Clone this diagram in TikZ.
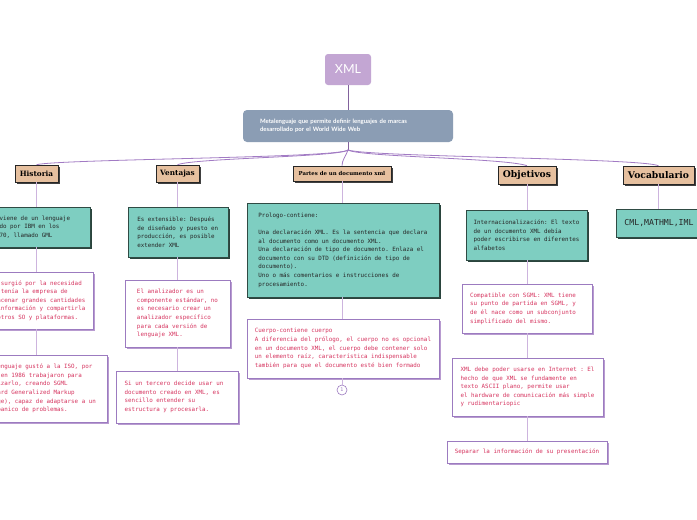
\documentclass[tikz,border=0pt]{standalone}
\usepackage{fontspec}
\setmainfont{DejaVu Serif}
\setsansfont{Lato}
\setmonofont{DejaVu Sans Mono}
\usetikzlibrary{shadows}

\definecolor{rootfill}{HTML}{C3A6D3}
\definecolor{metafill}{HTML}{8B9DB4}
\definecolor{topicfill}{HTML}{E6C09F}
\definecolor{tealfill}{HTML}{7ECEC1}
\definecolor{tealedge}{HTML}{2F4B44}
\definecolor{noteedge}{HTML}{9C7BC0}
\definecolor{noteshade}{HTML}{B89BD0}
\definecolor{notetext}{HTML}{D6345F}
\definecolor{branchcol}{HTML}{A27BC4}
\definecolor{stemcol}{HTML}{CDB4DE}

\begin{document}
\begin{tikzpicture}[x=1pt,y=-1pt,
    every node/.style={inner sep=0pt,align=left},
    topic/.style={draw=black!85,fill=topicfill,line width=.6pt,
      drop shadow={shadow xshift=1.6pt,shadow yshift=-1.6pt,fill=black!75,opacity=1}},
    tealbox/.style={draw=tealedge,fill=tealfill,line width=.6pt,text=black!85,
      font=\ttfamily\fontsize{5.85}{8.6}\selectfont,
      drop shadow={shadow xshift=1.8pt,shadow yshift=-1.8pt,fill=tealedge!90!black,opacity=1}},
    notebox/.style={draw=noteedge,fill=white,line width=.7pt,text=notetext,
      font=\ttfamily\fontsize{5.85}{8.6}\selectfont,
      drop shadow={shadow xshift=2pt,shadow yshift=-2pt,fill=noteshade,opacity=1}},
    stem/.style={draw=stemcol,line width=.9pt},
    branch/.style={draw=branchcol,line width=.8pt}]

  \fill[white] (0,0) rectangle (697,520);
  \useasboundingbox (0,0) rectangle (697,520);

  \node[fill=rootfill,rounded corners=3pt,minimum width=46pt,minimum height=31pt,
    text=white,font=\sffamily\fontsize{12.5}{14}\selectfont] (xml) at (348,69.5) {XML};
  \node[fill=metafill,rounded corners=4pt,minimum width=210pt,minimum height=32pt,
    text width=176pt,text=white,font=\sffamily\bfseries\fontsize{6}{8}\selectfont] (meta) at (348,126)
    {Metalenguaje que permite definir lenguajes de marcas\\desarrollado por el World Wide Web};
  \coordinate (hub) at (348,150);
  \draw[draw=branchcol!80!black,line width=1pt] (xml) -- (meta);
  \draw[draw=branchcol!80!black,line width=1pt] (meta) -- (hub);

  % temas
  \node[topic,minimum width=43pt,minimum height=17pt,font=\bfseries\fontsize{7.3}{9}\selectfont]
    (hist) at (36.5,173.5) {Historia};
  \node[topic,minimum width=43pt,minimum height=17pt,font=\bfseries\fontsize{7.3}{9}\selectfont]
    (vent) at (177.5,173.5) {Ventajas};
  \node[topic,minimum width=98pt,minimum height=15pt,font=\bfseries\fontsize{5.4}{7}\selectfont]
    (part) at (342,173.5) {Partes de un documento xml};
  \node[topic,minimum width=58pt,minimum height=18pt,font=\bfseries\fontsize{9.2}{11}\selectfont]
    (obj) at (527,175) {Objetivos};
  \node[topic,minimum width=71pt,minimum height=18pt,font=\bfseries\fontsize{9.2}{11}\selectfont]
    (voc) at (658.5,175) {Vocabulario};

  \draw[branch] (hub) .. controls (340,158) and (60,159) .. (hist.north);
  \draw[branch] (hub) .. controls (340,157) and (195,158) .. (vent.north);
  \draw[branch] (hub) .. controls (346,156) and (342,160) .. (part.north);
  \draw[branch] (hub) .. controls (360,157) and (505,158) .. (obj.north);
  \draw[branch] (hub) .. controls (370,157) and (640,158) .. (voc.north);

  % Historia
  \node[tealbox,minimum width=123pt,minimum height=40pt] (h1) at (28.5,227)
    {XML proviene de un lenguaje\hspace*{12pt}\\inventado por IBM en los\\años 1970, llamado GML};
  \node[notebox,minimum width=114pt,minimum height=57pt] (h2) at (36,300.5)
    {GML surgió por la necesidad\\que tenía la empresa de\\almacenar grandes cantidades\\de información y compartirla\\en otros SO y plataformas.};
  \node[notebox,minimum width=142pt,minimum height=67pt] (h3) at (36,388.5)
    {Este lenguaje gustó a la ISO, por\\lo que en 1986 trabajaron para\\normalizarlo, creando SGML\\(Standard Generalized Markup\\Language), capaz de adaptarse a un\hspace*{6pt}\\gran abanico de problemas.};
  \draw[stem] (hist.south) -- (hist.south |- h1.north);
  \draw[stem] (hist.south |- h1.south) -- (hist.south |- h2.north);
  \draw[stem] (hist.south |- h2.south) -- (hist.south |- h3.north);

  % Ventajas
  \node[tealbox,minimum width=100pt,minimum height=50pt] (v1) at (178,232)
    {Es extensible: Después\hspace*{4pt}\\de diseñado y puesto en\\producción, es posible\\extender XML};
  \node[notebox,minimum width=105pt,minimum height=67pt] (v2) at (177.5,313.5)
    {El analizador es un\\componente estándar, no\hspace*{6pt}\\es necesario crear un\\analizador específico\\para cada versión de\\lenguaje XML.};
  \node[notebox,minimum width=122pt,minimum height=52pt] (v3) at (177,397)
    {Si un tercero decide usar un\hspace*{6pt}\\documento creado en XML, es\\sencillo entender su\\estructura y procesarla.};
  \draw[stem] (vent.south) -- (vent.south |- v1.north);
  \draw[stem] (vent.south |- v1.south) -- (vent.south |- v2.north);
  \draw[stem] (vent.south |- v2.south) -- (vent.south |- v3.north);

  % Partes
  \node[tealbox,minimum width=192pt,minimum height=94pt] (p1) at (343,250)
    {Prologo-contiene:\\[8.6pt]Una declaración XML. Es la sentencia que declara\hspace*{6pt}\\al documento como un documento XML.\\Una declaración de tipo de documento. Enlaza el\\documento con su DTD (definición de tipo de\\documento).\\Uno o más comentarios e instrucciones de\\procesamiento.};
  \node[notebox,minimum width=192pt,minimum height=59pt] (p2) at (343,348.5)
    {Cuerpo-contiene cuerpo\\A diferencia del prólogo, el cuerpo no es opcional\\en un documento XML, el cuerpo debe contener solo\\un elemento raíz, característica indispensable\\también para que el documento esté bien formado};
  \node[circle,draw=noteedge,line width=.6pt,fill=white,minimum size=10pt,text=noteedge,
    font=\ttfamily\fontsize{5}{6}\selectfont] (p3) at (342,390) {1};
  \draw[stem] (part.south) -- (part.south |- p1.north);
  \draw[stem] (part.south |- p1.south) -- (part.south |- p2.north);
  \draw[stem] (part.south |- p2.south) -- (p3.north);

  % Objetivos
  \node[tealbox,minimum width=121pt,minimum height=50pt] (o1) at (526.5,235)
    {Internacionalización: El texto\\de un documento XML debía\\poder escribirse en diferentes\\alfabetos};
  \node[notebox,minimum width=130pt,minimum height=49pt] (o2) at (527,308.5)
    {Compatible con SGML: XML tiene\hspace*{8pt}\\su punto de partida en SGML, y\\de él nace como un subconjunto\\simplificado del mismo.};
  \node[notebox,minimum width=151pt,minimum height=58pt] (o3) at (527.5,387)
    {XML debe poder usarse en Internet : El\\hecho de que XML se fundamente en\\texto ASCII plano, permite usar\\el hardware de comunicación más simple\\y rudimentariopic};
  \node[notebox,minimum width=160pt,minimum height=22pt] (o4) at (527,452)
    {Separar la información de su presentación};
  \draw[stem] (obj.south) -- (obj.south |- o1.north);
  \draw[stem] (obj.south |- o1.south) -- (obj.south |- o2.north);
  \draw[stem] (obj.south |- o2.south) -- (obj.south |- o3.north);
  \draw[stem] (obj.south |- o3.south) -- (obj.south |- o4.north);

  % Vocabulario
  \node[tealbox,minimum width=86pt,minimum height=28pt,font=\ttfamily\fontsize{8.2}{10}\selectfont]
    (w1) at (659,223) {CML,MATHML,IML};
  \draw[stem] (voc.south) -- (voc.south |- w1.north);
\end{tikzpicture}
\end{document}
